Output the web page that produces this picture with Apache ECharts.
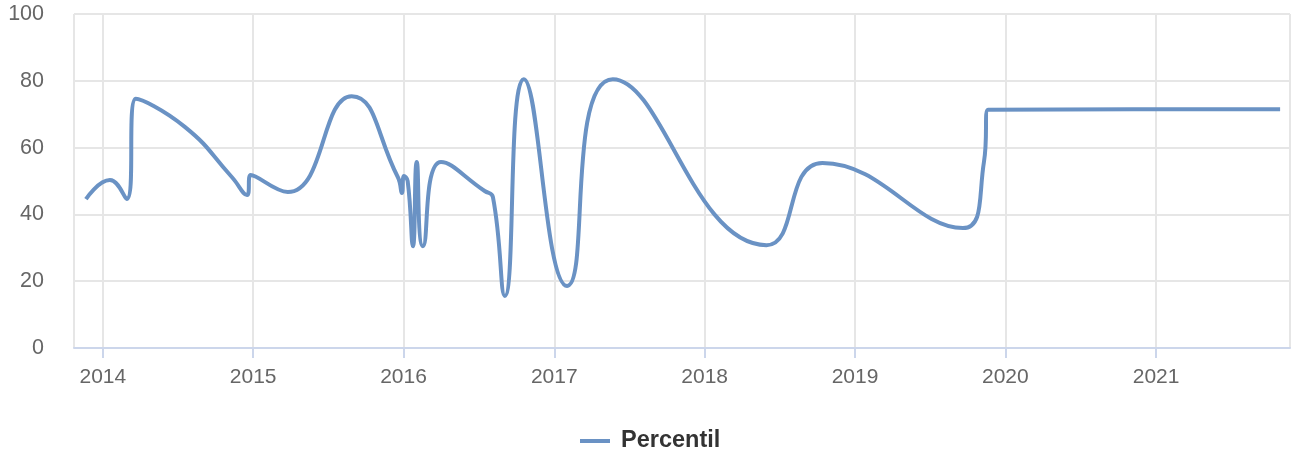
<!DOCTYPE html>
<html>
<head>
<meta charset="utf-8">
<script src="https://cdn.jsdelivr.net/npm/echarts@6/dist/echarts.min.js"></script>
<style>
html,body{margin:0;padding:0;background:#fff;}
#chart{width:1291px;height:454px;}
</style>
</head>
<body>
<div id="chart"></div>
<script>
var seriesName = 'Percentil';
var dates = ['2013-11-21','2014-01-18','2014-02-28','2014-03-22','2014-07-19','2014-11-10','2014-12-17','2014-12-26','2015-03-26','2015-08-28','2015-12-18','2015-12-28','2016-01-02','2016-01-11','2016-01-24','2016-02-02','2016-02-17','2016-04-01','2016-07-16','2016-08-05','2016-09-03','2016-10-19','2017-02-01','2017-05-23','2018-05-31','2018-10-14','2019-09-20','2019-11-10','2019-11-20','2021-10-29'];
var values = [44.6,50.3,44.6,74.6,66.2,51.2,45.8,51.8,46.7,75.4,51.2,46.4,51.5,50.0,30.5,55.7,30.5,55.7,47.0,45.2,15.6,80.5,18.6,80.5,30.8,55.4,35.9,55.7,71.3,71.5];
var yTicks = [0,20,40,60,80,100];

var data = dates.map(function(d,i){ return [d, values[i]]; });
var chart = echarts.init(document.getElementById('chart'));
chart.setOption({
  animation:false,
  textStyle:{fontFamily:'Liberation Sans, Arial, sans-serif'},
  grid:{left:74,right:1,top:14,bottom:106,containLabel:false},
  legend:{
    top:429, left:580,
    data:[{name:seriesName,icon:'rect'}],
    itemWidth:30, itemHeight:4, itemGap:10, padding:0,
    textStyle:{color:'#333333',fontWeight:'bold',fontSize:23.5,padding:[0,0,0,6],fontFamily:'Liberation Sans, Arial, sans-serif'}
  },
  xAxis:{
    type:'time',
    min:'2013-10-23', max:'2021-11-22',
    axisLine:{lineStyle:{color:'#ccd6eb',width:2}},
    axisTick:{show:true,length:10,lineStyle:{color:'#ccd6eb',width:2}},
    splitLine:{show:true,lineStyle:{color:'#e6e6e6',width:2}},
    axisLabel:{color:'#666666',fontSize:21,margin:19,formatter:'{yyyy}',hideOverlap:true,showMinLabel:false,showMaxLabel:false}
  },
  yAxis:{
    type:'value', min:yTicks[0], max:yTicks[yTicks.length-1], interval:20,
    axisLine:{show:false}, axisTick:{show:false},
    splitLine:{lineStyle:{color:'#e6e6e6',width:2}},
    axisLabel:{color:'#666666',fontSize:21.5,margin:30}
  },
  series:[{
    name:seriesName, type:'line', data:data, smooth:0.5,
    symbol:'none', showSymbol:false,
    lineStyle:{color:'#6a92c4',width:4},
    itemStyle:{color:'#6a92c4'}
  }]
});
</script>
</body>
</html>
